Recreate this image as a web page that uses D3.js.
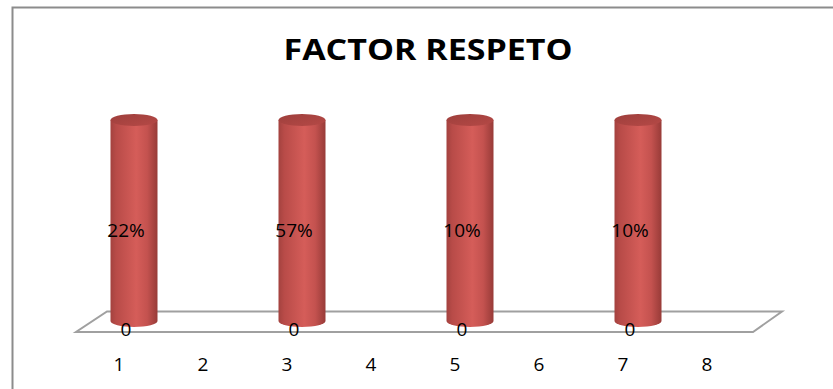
<!DOCTYPE html>
<html>
<head>
<meta charset="utf-8">
<script src="https://cdn.jsdelivr.net/npm/d3@7"></script>
<style>
  html, body { margin: 0; padding: 0; background: #fff; }
  svg { display: block; }
  .lbl { font-family: 'Open Sans', 'DejaVu Sans', sans-serif; font-size: 19px; fill: #000; }
</style>
</head>
<body>
<svg id="chart" width="833" height="389"></svg>
<script>
// ---- data ----
const categories = ["1", "2", "3", "4", "5", "6", "7", "8"];
const barValues = [1, null, 1, null, 1, null, 1, null];
const pctLabels = ["22%", "", "57%", "", "10%", "", "10%", ""];
const baseLabels = ["0", "", "0", "", "0", "", "0", ""];
const chartTitle = "FACTOR RESPETO";

// ---- layout ----
const svg = d3.select("#chart");
const W = 833, H = 389;

// frame
svg.append("rect")
  .attr("x", 12.5).attr("y", 7.5)
  .attr("width", W + 10).attr("height", H + 10)
  .attr("fill", "#fff").attr("stroke", "#8c8c8c").attr("stroke-width", 2);

const x = d3.scaleBand().domain(categories).range([77, 749]).padding(0);
const y = d3.scaleLinear().domain([0, 1]).range([321, 120]);

const depthDx = 29, depthDy = 20.5;
const floorFrontY = 332, floorBackY = floorFrontY - depthDy;

// gradient
const defs = svg.append("defs");
const g1 = defs.append("linearGradient").attr("id", "cyl").attr("x1", "0").attr("x2", "1").attr("y1", "0").attr("y2", "0");
[[0, "#a3423f"], [0.12, "#b84b48"], [0.55, "#d55d59"], [0.78, "#c4524f"], [1, "#983b38"]]
  .forEach(([o, c]) => g1.append("stop").attr("offset", o).attr("stop-color", c));
const g2 = defs.append("linearGradient").attr("id", "cyltop").attr("x1", "0").attr("x2", "1").attr("y1", "0").attr("y2", "1");
[[0, "#9e3f3c"], [1, "#b54946"]]
  .forEach(([o, c]) => g2.append("stop").attr("offset", o).attr("stop-color", c));

// floor
const fx0 = x.range()[0] - 1, fx1 = x.range()[1] + 4;
svg.append("path")
  .attr("d", `M${fx0},${floorFrontY} L${fx1},${floorFrontY} L${fx1 + depthDx},${floorBackY} L${fx0 + depthDx + 2},${floorBackY} Z`)
  .attr("fill", "none").attr("stroke", "#a0a0a0").attr("stroke-width", 2);

// cylinders
const rx = 23.5, ry = 6;
const bw = x.bandwidth();
const data = categories.map((c, i) => ({ c, v: barValues[i], pct: pctLabels[i], base: baseLabels[i] }));
const bars = data.filter(d => d.v != null);

const cx = d => x(d.c) + bw / 2 + 15;

svg.append("g").selectAll("path.body").data(bars).join("path")
  .attr("class", "body")
  .attr("d", d => {
    const c = cx(d), yt = y(d.v), yb = y(0);
    return `M${c - rx},${yt} L${c - rx},${yb} A${rx},${ry} 0 0 0 ${c + rx},${yb} L${c + rx},${yt} Z`;
  })
  .attr("fill", "url(#cyl)");

svg.append("g").selectAll("ellipse").data(bars).join("ellipse")
  .attr("cx", d => cx(d)).attr("cy", d => y(d.v))
  .attr("rx", rx).attr("ry", ry)
  .attr("fill", "url(#cyltop)");

// data labels
svg.append("g").selectAll("text").data(bars).join("text")
  .attr("class", "lbl")
  .attr("x", d => x(d.c) + bw / 2 + 7)
  .attr("y", d => (y(d.v) + y(0)) / 2 + 16)
  .attr("text-anchor", "middle")
  .text(d => d.pct);

svg.append("g").selectAll("text").data(bars).join("text")
  .attr("class", "lbl")
  .attr("x", d => x(d.c) + bw / 2 + 7)
  .attr("y", y(0) + 15)
  .attr("text-anchor", "middle")
  .text(d => d.base);

// category axis
const axis = svg.append("g").attr("transform", "translate(0,357)")
  .call(d3.axisBottom(x).tickSize(0).tickPadding(0));
axis.attr("font-size", null).attr("font-family", null);
axis.select(".domain").remove();
axis.selectAll("text").attr("class", "lbl");

// title
svg.append("text")
  .attr("x", 428).attr("y", 60)
  .attr("text-anchor", "middle")
  .style("font-family", "'Open Sans', 'DejaVu Sans', sans-serif")
  .style("font-weight", 700).style("font-size", "28px")
  .attr("textLength", 289).attr("lengthAdjust", "spacingAndGlyphs")
  .attr("fill", "#000")
  .text(chartTitle);
</script>
</body>
</html>
